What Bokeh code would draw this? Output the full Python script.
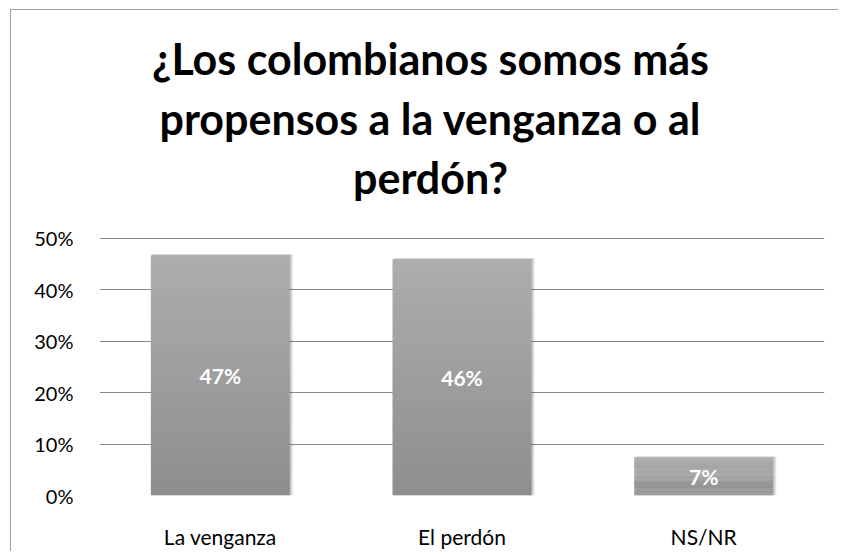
from bokeh.plotting import figure
from bokeh.models import FactorRange, Range1d, NumeralTickFormatter, ColumnDataSource, FixedTicker, Label
from bokeh.transform import dodge
from bokeh.embed import file_html
from bokeh.resources import INLINE

title_lines = ["¿Los colombianos somos más", "propensos a la venganza o al", "perdón?"]
categories = ["La venganza", "El perdón", "NS/NR"]
values = [0.467, 0.459, 0.074]
y_ticks = [0.0, 0.1, 0.2, 0.3, 0.4, 0.5]

FONT = "Lato"

# The frame spans the title area too; only the 0-50 % ticks/grid are drawn.
FRAME_H = 485
PX_PER_UNIT = 514.5
p = figure(
    x_range=FactorRange(*categories, range_padding=0),
    y_range=Range1d(0, FRAME_H / PX_PER_UNIT),
    frame_width=725, frame_height=FRAME_H,
    min_border_left=88, min_border_right=14, min_border_top=0, min_border_bottom=52,
    output_backend="svg", toolbar_location=None,
)
p.styles = {"border-top": "1px solid #a0a0a0", "border-left": "1px solid #a0a0a0",
            "margin-top": "9px", "margin-left": "10px"}

# title lines (screen units, measured up from the frame bottom)
TITLE_TOP = 437
TITLE_STEP = 59.5
for i, line in enumerate(title_lines):
    p.add_layout(Label(x=331, y=TITLE_TOP - i * TITLE_STEP, x_units="screen", y_units="screen",
                       text=line, text_align="center", text_baseline="alphabetic",
                       text_font=FONT, text_font_style="bold", text_font_size="43px",
                       text_color="#000000"))

p.outline_line_color = None
p.background_fill_color = "white"
p.border_fill_color = "white"

# grid
p.xgrid.grid_line_color = None
p.ygrid.grid_line_color = "#8a8a8a"
p.ygrid.grid_line_width = 1
p.yaxis.ticker = FixedTicker(ticks=y_ticks)
p.yaxis.formatter = NumeralTickFormatter(format="0%")
p.yaxis.axis_line_color = None
p.yaxis.major_tick_line_color = None
p.yaxis.minor_tick_line_color = None
p.yaxis.major_label_standoff = 20
p.yaxis.major_label_text_font = FONT
p.yaxis.major_label_text_font_size = "20px"
p.yaxis.major_label_text_color = "#000000"

p.xaxis.axis_line_color = None
p.xaxis.major_tick_line_color = None
p.xaxis.major_label_standoff = 22
p.xaxis.major_label_text_font = FONT
p.xaxis.major_label_text_font_size = "21px"
p.xaxis.major_label_text_color = "#000000"

BW = 0.575

# soft shadow
for dx, a in [(0.012, 0.06), (0.008, 0.08), (0.004, 0.10)]:
    p.vbar(x=dodge("c", dx, range=p.x_range), top="t", bottom=-0.003, width=BW + 0.004,
           source=ColumnDataSource(dict(c=categories, t=[v + 0.002 for v in values])),
           fill_color="#000000", fill_alpha=a, line_color=None)

# gradient bars: slices from bottom (dark) to top (light)
N = 40
c0 = (0x8e, 0x8e, 0x8e)
c1 = (0xad, 0xad, 0xad)
xs, bots, tops, cols = [], [], [], []
for c, v in zip(categories, values):
    for k in range(N):
        f = (k + 0.5) / N
        col = tuple(int(round(c0[j] + (c1[j] - c0[j]) * f)) for j in range(3))
        xs.append(c)
        bots.append(v * k / N)
        tops.append(v * (k + 1) / N + (0 if k == N - 1 else v * 0.003))
        cols.append("#%02x%02x%02x" % col)
p.vbar(x="x", bottom="b", top="t", width=BW, fill_color="col", line_color=None,
       source=ColumnDataSource(dict(x=xs, b=bots, t=tops, col=cols)))

# value labels
lab = ColumnDataSource(dict(x=categories, y=[v / 2 for v in values],
                            txt=["%d%%" % round(v * 100) for v in values]))
p.text(x="x", y="y", text="txt", source=lab, text_align="center", text_baseline="middle",
       text_color="white", text_font={"value": FONT}, text_font_style="bold",
       text_font_size="21px", y_offset=0)

open("out.html", "w").write(file_html(p, INLINE))
